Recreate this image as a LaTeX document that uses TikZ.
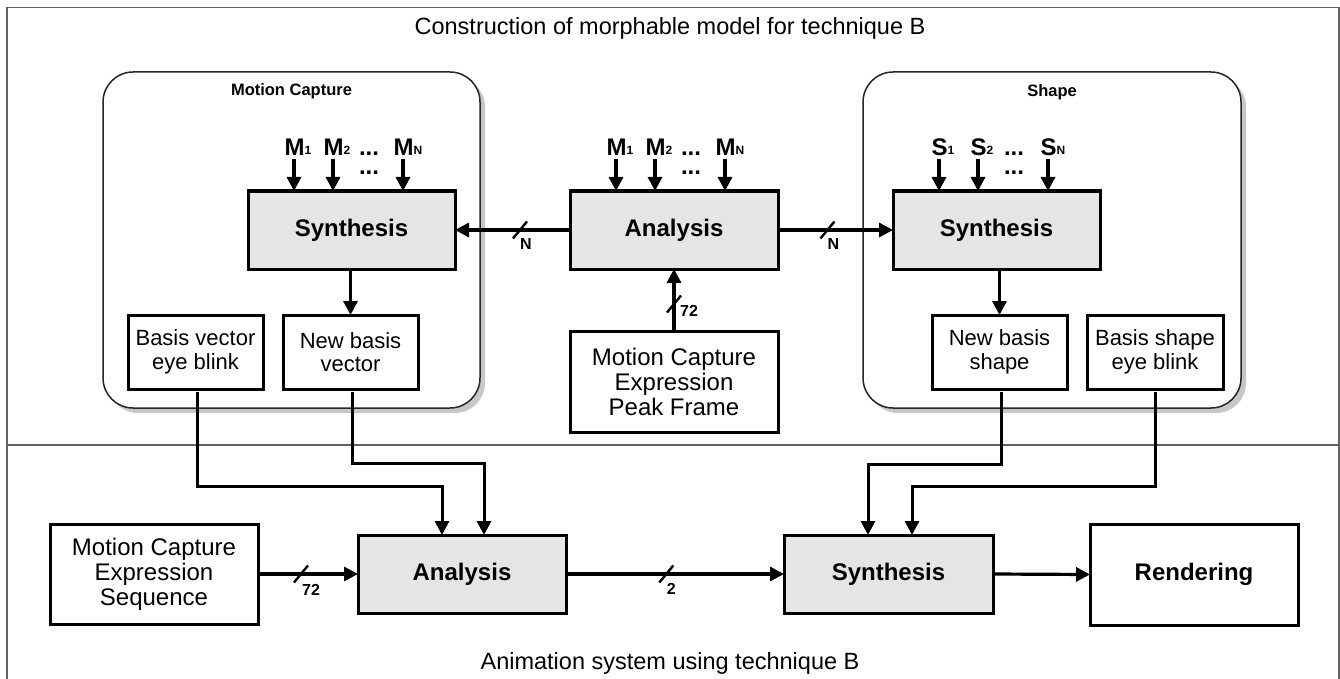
\documentclass[tikz,border=0pt]{standalone}
\usepackage{fontspec}
\setmainfont{Liberation Sans}
\usetikzlibrary{arrows.meta,shadows,calc}

\newcommand{\lbl}[1]{{\fontsize{12}{12}\selectfont\raisebox{1.5pt}{#1}}}

\tikzset{
  every node/.style={inner sep=0pt, outer sep=0pt},
  frameline/.style={draw=black!62, line width=1.5pt},
  group/.style={draw=black!85, line width=1.5pt, fill=white, rounded corners=30pt,
    drop shadow={shadow xshift=5pt, shadow yshift=-5pt, fill=black!22, opacity=1}},
  procbox/.style={draw=black, line width=3pt, fill=black!10, align=center,
    font=\fontsize{24}{26}\selectfont\bfseries},
  databox/.style={draw=black, line width=3pt, fill=white, align=center,
    font=\fontsize{24}{25}\selectfont},
  smallbox/.style={draw=black, line width=3pt, fill=white, align=center,
    font=\fontsize{22}{23.5}\selectfont},
  arr/.style={line width=3.2pt, -{Triangle[length=14pt,width=14pt]}},
  wire/.style={line width=3pt, shorten <=3pt},
  wirearr/.style={wire, -{Triangle[length=14pt,width=14pt]}},
  inlab/.style={anchor=base, font=\fontsize{24}{24}\selectfont\bfseries},
  dots/.style={anchor=south, align=center, font=\fontsize{24}{24}\selectfont\bfseries},
  buslab/.style={font=\fontsize{16}{16}\selectfont\bfseries},
  grouplab/.style={font=\fontsize{16.5}{17}\selectfont\bfseries},
  title/.style={font=\fontsize{23.5}{25}\selectfont},
  pics/busmark/.style={code={\draw[line width=2.4pt] (-7,8.5) -- (7,-8.5);}}
}

\begin{document}
\begin{tikzpicture}[x=1pt,y=-1pt]
\useasboundingbox (0,0) rectangle (1340,679);

% outer frame and the divider between the two halves
\draw[frameline] (7,679) -- (7,7.5) -- (1339,7.5) -- (1339,679);
\draw[frameline] (7,445) -- (1339,445);

\node[title] (ttop) at (670,28) {Construction of morphable model for technique B};
\node[title] (tbot) at (670,663) {Animation system using technique B};

% grouping panels
\path[group] (103,72) rectangle (480,408);
\path[group] (863,72) rectangle (1241,408);
\node[grouplab] (gmc) at (291.5,91) {Motion Capture};
\node[grouplab] (gsh) at (1052,92) {Shape};

% upper row
\node[procbox, minimum width=207pt, minimum height=78pt] (synL) at (351.5,230) {Synthesis};
\node[procbox, minimum width=208pt, minimum height=78pt] (anaT) at (674,230) {Analysis};
\node[procbox, minimum width=207pt, minimum height=78pt] (synR) at (996.5,230) {Synthesis};
\node[databox, minimum width=208pt, minimum height=101pt] (peak) at (674,381.5)
  {Motion Capture\\Expression\\Peak Frame};

\node[smallbox, minimum width=135pt, minimum height=74pt] (bvL) at (195.5,352) {Basis vector\\eye blink};
\node[smallbox, minimum width=135pt, minimum height=74pt] (nbv) at (350.5,352) {New basis\\vector};
\node[smallbox, minimum width=135pt, minimum height=74pt] (nbs) at (999.5,352) {New basis\\shape};
\node[smallbox, minimum width=136pt, minimum height=74pt] (bse) at (1155,352) {Basis shape\\eye blink};

% inputs above the upper row
\foreach \bx/\sym/\pre in {synL/M/l, anaT/M/c, synR/S/r}{
  \coordinate (\pre0) at ($(\bx.north west)+(0,-35)$);
  \node[inlab] (\pre1) at ($(\pre0)+(50,0)$) {\sym\lbl{1}};
  \node[inlab] (\pre2) at ($(\pre0)+(89,0)$) {\sym\lbl{2}};
  \node[dots] (\pre3) at ($(\pre0)+(121,19)$) {...\\[-5pt]...};
  \node[inlab] (\pre N) at ($(\pre0)+(160,0)$) {\sym\lbl{N}};
  \foreach \dx in {46,85,155}{
    \coordinate (tmp) at ($(\pre0)+(\dx,3)$);
    \draw[arr] (tmp) -- (tmp |- \bx.north);
  }
}

% arrows of the upper row
\draw[arr] (anaT.west) -- (synL.east) coordinate[pos=0.435] (bA);
\pic at (bA) {busmark};
\node[buslab] (nA) at ($(bA)+(6,14)$) {N};

\draw[arr] (anaT.east) -- (synR.west) coordinate[pos=0.43] (bB);
\pic at (bB) {busmark};
\node[buslab] (nB) at ($(bB)+(6,14)$) {N};

\draw[arr] (peak.north) -- (anaT.south) coordinate[pos=0.435] (bC);
\pic at (bC) {busmark};
\node[buslab] (nC) at ($(bC)+(15,7)$) {72};

\draw[arr] (synL.south -| nbv) -- (nbv.north);
\draw[arr] (synR.south -| nbs) -- (nbs.north);

% lower row
\node[databox, minimum width=208pt, minimum height=100pt] (seq) at (154,574)
  {Motion Capture\\Expression\\Sequence};
\node[procbox, minimum width=208pt, minimum height=78pt] (anaB) at (462,574) {Analysis};
\node[procbox, minimum width=209pt, minimum height=78pt] (synB) at (888.5,574) {Synthesis};
\node[procbox, fill=white, minimum width=208pt, minimum height=101pt] (rend) at (1194,574.5) {Rendering};

\draw[arr] (seq.east) -- (anaB.west) coordinate[pos=0.43] (bD);
\pic at (bD) {busmark};
\node[buslab] (nD) at ($(bD)+(10,16)$) {72};

\draw[arr] (anaB.east) -- (synB.west) coordinate[pos=0.46] (bE);
\pic at (bE) {busmark};
\node[buslab] (nE) at ($(bE)+(5,15)$) {2};

\draw[arr] (synB.east) -- (rend.west);

% basis vectors and shapes routed down into the lower row
\coordinate (l1) at (442,486);
\coordinate (l2) at (484,463);
\coordinate (r1) at (868,464);
\coordinate (r2) at (912,486);
\draw[wirearr] ([xshift=2pt]bvL.south) |- (l1) -- (l1 |- anaB.north);
\draw[wirearr] ([xshift=2pt]nbv.south) |- (l2) -- (l2 |- anaB.north);
\draw[wirearr] ([xshift=1.5pt]nbs.south) |- (r1) -- (r1 |- synB.north);
\draw[wirearr] (bse.south) |- (r2) -- (r2 |- synB.north);
\end{tikzpicture}
\end{document}
